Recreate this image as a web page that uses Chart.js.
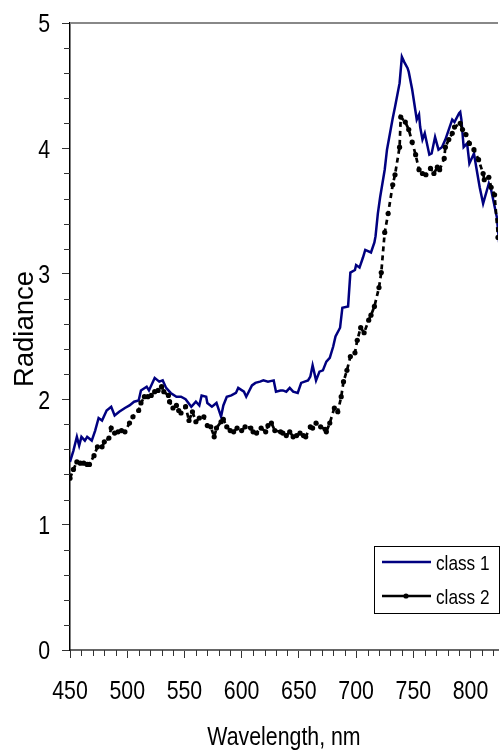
<!DOCTYPE html>
<html>
<head>
<meta charset="utf-8">
<title>Radiance spectra</title>
<script src="https://cdn.jsdelivr.net/npm/chart.js@4.4.1/dist/chart.umd.min.js"></script>
<style>
  html, body { margin: 0; padding: 0; background: #fff; }
</style>
</head>
<body>
<canvas id="spectra" width="502" height="751"></canvas>
<script>
// wavelength (nm) and radiance for each class
const class1Nm = [450, 453, 456, 458, 460, 463, 465, 469, 472, 475, 478, 482, 486, 489, 493, 498, 502, 506, 510, 512,
  517, 519, 524, 528, 531, 534, 538, 543, 547, 551, 556, 560, 563, 565, 569, 570, 574, 578, 582, 584,
  587, 591, 595, 597, 602, 604, 609, 612, 616, 619, 623, 628, 630, 634, 636, 639, 642, 645, 649, 652,
  655, 658, 660, 662, 665, 668, 671, 674, 677, 680, 682, 686, 688, 693, 695, 699, 700, 703, 706, 708,
  713, 716, 717, 719, 721, 725, 727, 732, 734, 738, 740, 742, 745, 746, 749, 752, 753, 755, 756, 758,
  760, 764, 766, 769, 772, 775, 778, 781, 784, 786, 790, 791, 792, 794, 797, 799, 803, 805, 808, 811,
  816, 818, 823, 825, 828];
const class1Radiance = [1.50, 1.59, 1.70, 1.63, 1.70, 1.67, 1.70, 1.67, 1.75, 1.85, 1.83, 1.91, 1.94, 1.87, 1.90, 1.93, 1.95, 1.98, 1.99, 2.07,
  2.10, 2.07, 2.17, 2.14, 2.15, 2.09, 2.05, 2.02, 2.02, 2.00, 1.94, 1.98, 1.95, 2.03, 2.02, 1.97, 1.94, 1.97, 1.86, 1.95,
  2.02, 2.03, 2.05, 2.09, 2.06, 2.02, 2.11, 2.13, 2.14, 2.15, 2.14, 2.15, 2.06, 2.07, 2.07, 2.06, 2.09, 2.06, 2.05, 2.13,
  2.14, 2.15, 2.18, 2.27, 2.15, 2.22, 2.23, 2.30, 2.33, 2.42, 2.50, 2.57, 2.73, 2.74, 3.01, 3.03, 3.07, 3.05, 3.13, 3.19,
  3.17, 3.25, 3.30, 3.48, 3.61, 3.83, 3.99, 4.24, 4.33, 4.52, 4.73, 4.69, 4.64, 4.61, 4.47, 4.29, 4.23, 4.27, 4.17, 4.07,
  4.12, 3.95, 3.96, 4.09, 3.99, 4.01, 4.07, 4.15, 4.23, 4.21, 4.28, 4.29, 4.23, 4.01, 4.04, 3.88, 3.96, 3.85, 3.69, 3.56,
  3.72, 3.67, 3.45, 3.25, 3.00];

const class2Nm = [450, 453, 456, 459, 462, 465, 467, 471, 474, 478, 480, 484, 486, 489, 492, 495, 498, 502, 505, 510,
  512, 515, 518, 521, 524, 527, 530, 532, 536, 537, 540, 543, 545, 547, 551, 554, 557, 560, 563, 567,
  570, 573, 576, 578, 582, 584, 587, 590, 593, 596, 600, 603, 608, 610, 613, 617, 621, 623, 626, 629,
  634, 636, 639, 642, 645, 648, 651, 654, 656, 660, 662, 665, 669, 673, 674, 677, 681, 684, 687, 689,
  692, 695, 699, 701, 704, 707, 711, 713, 716, 720, 722, 725, 728, 732, 734, 738, 739, 743, 746, 749,
  752, 755, 758, 761, 765, 768, 771, 773, 777, 778, 781, 784, 786, 791, 793, 796, 799, 803, 807, 811,
  812, 816, 818, 821, 824, 827];
const class2Radiance = [1.37, 1.44, 1.50, 1.49, 1.49, 1.48, 1.48, 1.55, 1.62, 1.62, 1.66, 1.69, 1.77, 1.73, 1.74, 1.75, 1.74, 1.81, 1.86, 1.91,
  1.97, 2.02, 2.02, 2.03, 2.06, 2.07, 2.10, 2.06, 2.03, 1.98, 1.93, 1.95, 1.91, 1.89, 1.94, 1.83, 1.90, 1.82, 1.85, 1.86,
  1.79, 1.78, 1.70, 1.77, 1.82, 1.84, 1.78, 1.75, 1.74, 1.77, 1.75, 1.78, 1.77, 1.74, 1.73, 1.77, 1.74, 1.79, 1.81, 1.75,
  1.74, 1.73, 1.71, 1.74, 1.70, 1.71, 1.73, 1.71, 1.70, 1.78, 1.77, 1.81, 1.78, 1.76, 1.74, 1.81, 1.93, 1.90, 2.02, 2.14,
  2.23, 2.34, 2.37, 2.47, 2.57, 2.53, 2.63, 2.67, 2.74, 2.89, 3.01, 3.33, 3.48, 3.71, 3.79, 4.01, 4.25, 4.21, 4.15, 4.05,
  3.95, 3.83, 3.80, 3.79, 3.84, 3.80, 3.85, 3.83, 3.92, 4.01, 4.07, 4.12, 4.17, 4.20, 4.15, 4.11, 4.04, 3.99, 3.91, 3.80,
  3.75, 3.77, 3.69, 3.63, 3.29, 3.00];

const seriesNames = ['class 1', 'class 2'];
const wavelengthTicks = [450, 500, 550, 600, 650, 700, 750, 800];
const radianceTicks = [0, 1, 2, 3, 4, 5];
const xTitle = 'Wavelength, nm';
const yTitle = 'Radiance';

const sans = "'Liberation Sans', Arial, sans-serif";
const SQUEEZE = 0.82; // narrow lettering: regular sans pressed sideways

const toPoints = (xs, ys) => xs.map((x, i) => ({ x: x, y: ys[i] }));

function narrowText(ctx, text, x, y, size, align, squeeze) {
  ctx.save();
  ctx.translate(x, y);
  ctx.scale(squeeze, 1);
  ctx.font = size + 'px ' + sans;
  ctx.textAlign = align;
  ctx.textBaseline = 'alphabetic';
  ctx.fillStyle = '#000';
  ctx.fillText(text, 0, 0);
  ctx.restore();
}

// top frame, minor ticks, axis lettering and the boxed legend
const decorations = {
  id: 'decorations',
  afterDraw(chart) {
    const { ctx, chartArea: area } = chart;
    const xs = chart.scales.x, ys = chart.scales.y;
    ctx.save();

    ctx.strokeStyle = '#888';
    ctx.lineWidth = 2;
    ctx.beginPath();
    ctx.moveTo(area.left, area.top);
    ctx.lineTo(area.right, area.top);
    ctx.stroke();

    ctx.strokeStyle = '#333';
    ctx.lineWidth = 1;
    ctx.beginPath();
    for (let v = 460; v <= xs.max; v += 10) {
      if (v % 50 === 0) continue;
      const px = Math.round(xs.getPixelForValue(v)) + 0.5;
      ctx.moveTo(px, area.bottom);
      ctx.lineTo(px, area.bottom + 6);
    }
    for (let i = 1; i < 25; i++) {
      if (i % 5 === 0) continue;
      const py = Math.round(ys.getPixelForValue(i / 5)) + 0.5;
      ctx.moveTo(area.left, py);
      ctx.lineTo(area.left - 6, py);
    }
    ctx.stroke();

    // tick labels and titles
    wavelengthTicks.forEach(v => narrowText(ctx, String(v), xs.getPixelForValue(v), 699, 26, 'center', SQUEEZE));
    radianceTicks.forEach(v => narrowText(ctx, String(v), 50, ys.getPixelForValue(v) + 9.3, 26, 'right', SQUEEZE));
    narrowText(ctx, xTitle, (area.left + area.right) / 2, 745, 26, 'center', SQUEEZE);

    ctx.save();
    ctx.translate(33, 329);
    ctx.rotate(-Math.PI / 2);
    ctx.font = '27.5px ' + sans;
    ctx.textAlign = 'center';
    ctx.textBaseline = 'alphabetic';
    ctx.fillStyle = '#000';
    ctx.fillText(yTitle, 0, 0);
    ctx.restore();

    // legend
    const bx = 374.5, by = 546.5, bw = 125, bh = 67;
    ctx.fillStyle = '#fff';
    ctx.fillRect(bx, by, bw, bh);
    ctx.strokeStyle = '#000';
    ctx.lineWidth = 1;
    ctx.strokeRect(bx, by, bw, bh);
    const rows = [562, 596];
    chart.data.datasets.forEach((ds, i) => {
      const ry = rows[i];
      ctx.strokeStyle = ds.borderColor;
      ctx.lineWidth = 2.5;
      ctx.beginPath();
      ctx.moveTo(382, ry);
      ctx.lineTo(431, ry);
      ctx.stroke();
      if (ds.pointRadius > 0) {
        ctx.fillStyle = ds.pointBackgroundColor;
        ctx.beginPath();
        ctx.arc(406, ry, 2.6, 0, Math.PI * 2);
        ctx.fill();
      }
      narrowText(ctx, ds.label, 436, ry + 8, 21, 'left', SQUEEZE);
    });
    ctx.restore();
  }
};

new Chart(document.getElementById('spectra'), {
  type: 'line',
  data: {
    datasets: [
      {
        label: seriesNames[0],
        data: toPoints(class1Nm, class1Radiance),
        borderColor: '#000080',
        borderWidth: 2.5,
        pointRadius: 0,
        tension: 0,
        order: 1
      },
      {
        label: seriesNames[1],
        data: toPoints(class2Nm, class2Radiance),
        borderColor: '#000',
        borderWidth: 2.7,
        borderDash: [5, 4],
        pointRadius: 2.6,
        pointBackgroundColor: '#000',
        pointBorderWidth: 0,
        tension: 0,
        order: 0
      }
    ]
  },
  options: {
    responsive: false,
    animation: false,
    devicePixelRatio: 1,
    layout: { padding: { top: 23, right: 0, left: 0, bottom: 0 } },
    plugins: {
      legend: { display: false },
      tooltip: { enabled: false }
    },
    scales: {
      x: {
        type: 'linear',
        min: 450,
        max: 824,
        afterBuildTicks: s => { s.ticks = wavelengthTicks.map(v => ({ value: v })); },
        afterFit: s => { s.height = 101; },
        grid: { drawOnChartArea: false, drawTicks: true, tickLength: 8, tickColor: '#333', tickWidth: 1 },
        border: { color: '#666', width: 2 },
        ticks: { display: false }
      },
      y: {
        min: 0,
        max: 5,
        afterBuildTicks: s => { s.ticks = radianceTicks.map(v => ({ value: v })); },
        afterFit: s => { s.width = 70; },
        grid: { drawOnChartArea: false, drawTicks: true, tickLength: 8, tickColor: '#333', tickWidth: 1 },
        border: { color: '#000', width: 1.5 },
        ticks: { display: false }
      }
    }
  },
  plugins: [decorations]
});
</script>
</body>
</html>
